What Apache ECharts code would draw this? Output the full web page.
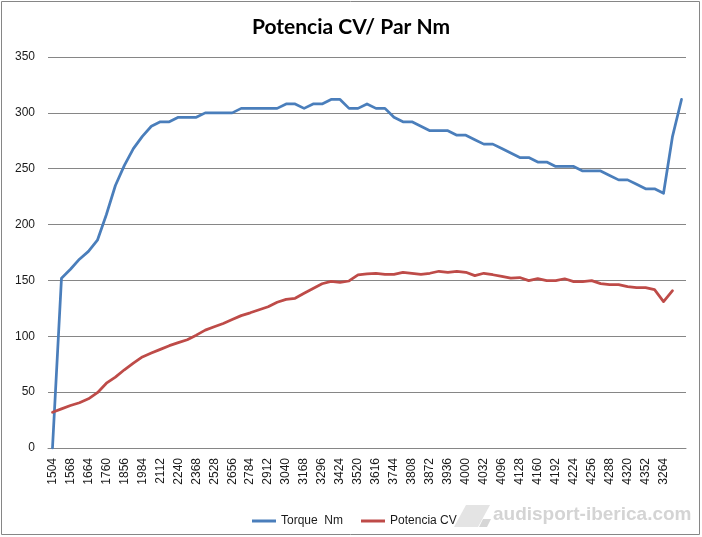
<!DOCTYPE html>
<html>
<head>
<meta charset="utf-8">
<script src="https://cdn.jsdelivr.net/npm/echarts@6/dist/echarts.min.js"></script>
<style>
html,body{margin:0;padding:0;background:#fff;}
#c{width:702px;height:537px;}
</style>
</head>
<body>
<div id="c"></div>
<script>
// RPM categories (only every other one is labelled in the chart)
const categories = [
  '1504','1536','1568','1616','1664','1712','1760','1808','1856','1920',
  '1984','2048','2112','2176','2240','2304','2368','2448','2528','2592',
  '2656','2720','2784','2848','2912','2976','3040','3104','3168','3232',
  '3296','3360','3424','3488','3520','3584','3616','3680','3744','3776',
  '3808','3840','3872','3904','3936','3968','4000','4016','4032','4064',
  '4096','4112','4128','4144','4160','4176','4192','4208','4224','4240',
  '4256','4272','4288','4304','4320','4336','4352','4368','3264','',''
];
const torqueNm = [
  0,152,160,169,176,186,209,235,253,268,
  279,288,292,292,296,296,296,300,300,300,
  300,304,304,304,304,304,308,308,304,308,
  308,312,312,304,304,308,304,304,296,292,
  292,288,284,284,284,280,280,276,272,272,
  268,264,260,260,256,256,252,252,252,248,
  248,248,244,240,240,236,232,232,228,279,
  312
];
const potenciaCV = [
  32,35,38,40.5,44,49.5,58,63.5,70,76,
  81.5,85,88.3,91.6,94.3,96.9,101,105.5,108.5,111.5,
  115,118.5,121,123.8,126.5,130.5,133,134,138.5,142.8,
  147,149.2,148.3,149.5,155,155.8,156.4,155.5,155.5,157.2,
  156.4,155.5,156.4,158.2,157.3,158.2,157.3,154.3,156.4,155.1,
  153.6,152,152.6,149.8,151.6,149.8,149.8,151.5,148.9,148.9,
  149.8,147.1,146.2,146.2,144.4,143.5,143.5,141.7,131,140.8,
  null
];
const yTicks = { min: 0, max: 350, interval: 50 };

const chart = echarts.init(document.getElementById('c'));
chart.setOption({
  backgroundColor: '#ffffff',
  animation: false,
  title: {
    text: 'Potencia CV/ Par Nm',
    left: 'center',
    top: 12,
    textStyle: { fontFamily: 'Lato', fontWeight: 'bold', fontSize: 21, color: '#000' }
  },
  legend: {
    left: 247,
    top: 510,
    icon: 'rect',
    itemWidth: 24,
    itemHeight: 3,
    itemGap: 18,
    textStyle: { fontFamily: 'Liberation Sans', fontSize: 12, color: '#1a1a1a' },
    data: ['Torque  Nm', 'Potencia CV']
  },
  grid: { left: 48, right: 16, top: 57, bottom: 89, containLabel: false },
  xAxis: {
    type: 'category',
    data: categories,
    boundaryGap: true,
    axisLine: { show: true, lineStyle: { color: '#868686', width: 1 } },
    axisTick: { show: false },
    axisLabel: {
      rotate: 90,
      margin: 10,
      interval: function (idx) { return idx % 2 === 0 && idx <= 68; },
      fontFamily: 'Liberation Sans',
      fontSize: 12,
      color: '#1a1a1a'
    },
    splitLine: { show: false }
  },
  yAxis: {
    type: 'value',
    min: yTicks.min,
    max: yTicks.max,
    interval: yTicks.interval,
    axisLine: { show: false },
    axisTick: { show: false },
    axisLabel: { margin: 13, fontFamily: 'Liberation Sans', fontSize: 12, color: '#1a1a1a' },
    splitLine: { show: true, lineStyle: { color: '#868686', width: 1 } }
  },
  series: [
    {
      name: 'Torque  Nm',
      type: 'line',
      data: torqueNm,
      showSymbol: false,
      symbol: 'none',
      itemStyle: { color: '#4A7EBB' },
      lineStyle: { color: '#4A7EBB', width: 2.75, cap: 'round', join: 'round' }
    },
    {
      name: 'Potencia CV',
      type: 'line',
      data: potenciaCV,
      showSymbol: false,
      symbol: 'none',
      itemStyle: { color: '#BE4B48' },
      lineStyle: { color: '#BE4B48', width: 2.75, cap: 'round', join: 'round' }
    }
  ],
  graphic: [
    {
      type: 'rect',
      shape: { x: 1.5, y: 1.5, width: 698, height: 533 },
      style: { fill: 'none', stroke: '#868686', lineWidth: 1 },
      silent: true
    },
    {
      type: 'polygon',
      shape: { points: [[454, 527], [466, 505], [490, 505], [478, 527]] },
      style: { fill: '#e4e4e4' },
      silent: true
    },
    {
      type: 'polygon',
      shape: { points: [[479, 527], [483, 519], [491, 519], [487, 527]] },
      style: { fill: '#d6d6d6' },
      silent: true
    },
    {
      type: 'text',
      left: 493,
      top: 505,
      style: {
        text: 'audisport-iberica.com',
        fill: '#d4d4d4',
        font: 'bold 19px "Liberation Sans"'
      },
      silent: true
    }
  ]
});
</script>
</body>
</html>
